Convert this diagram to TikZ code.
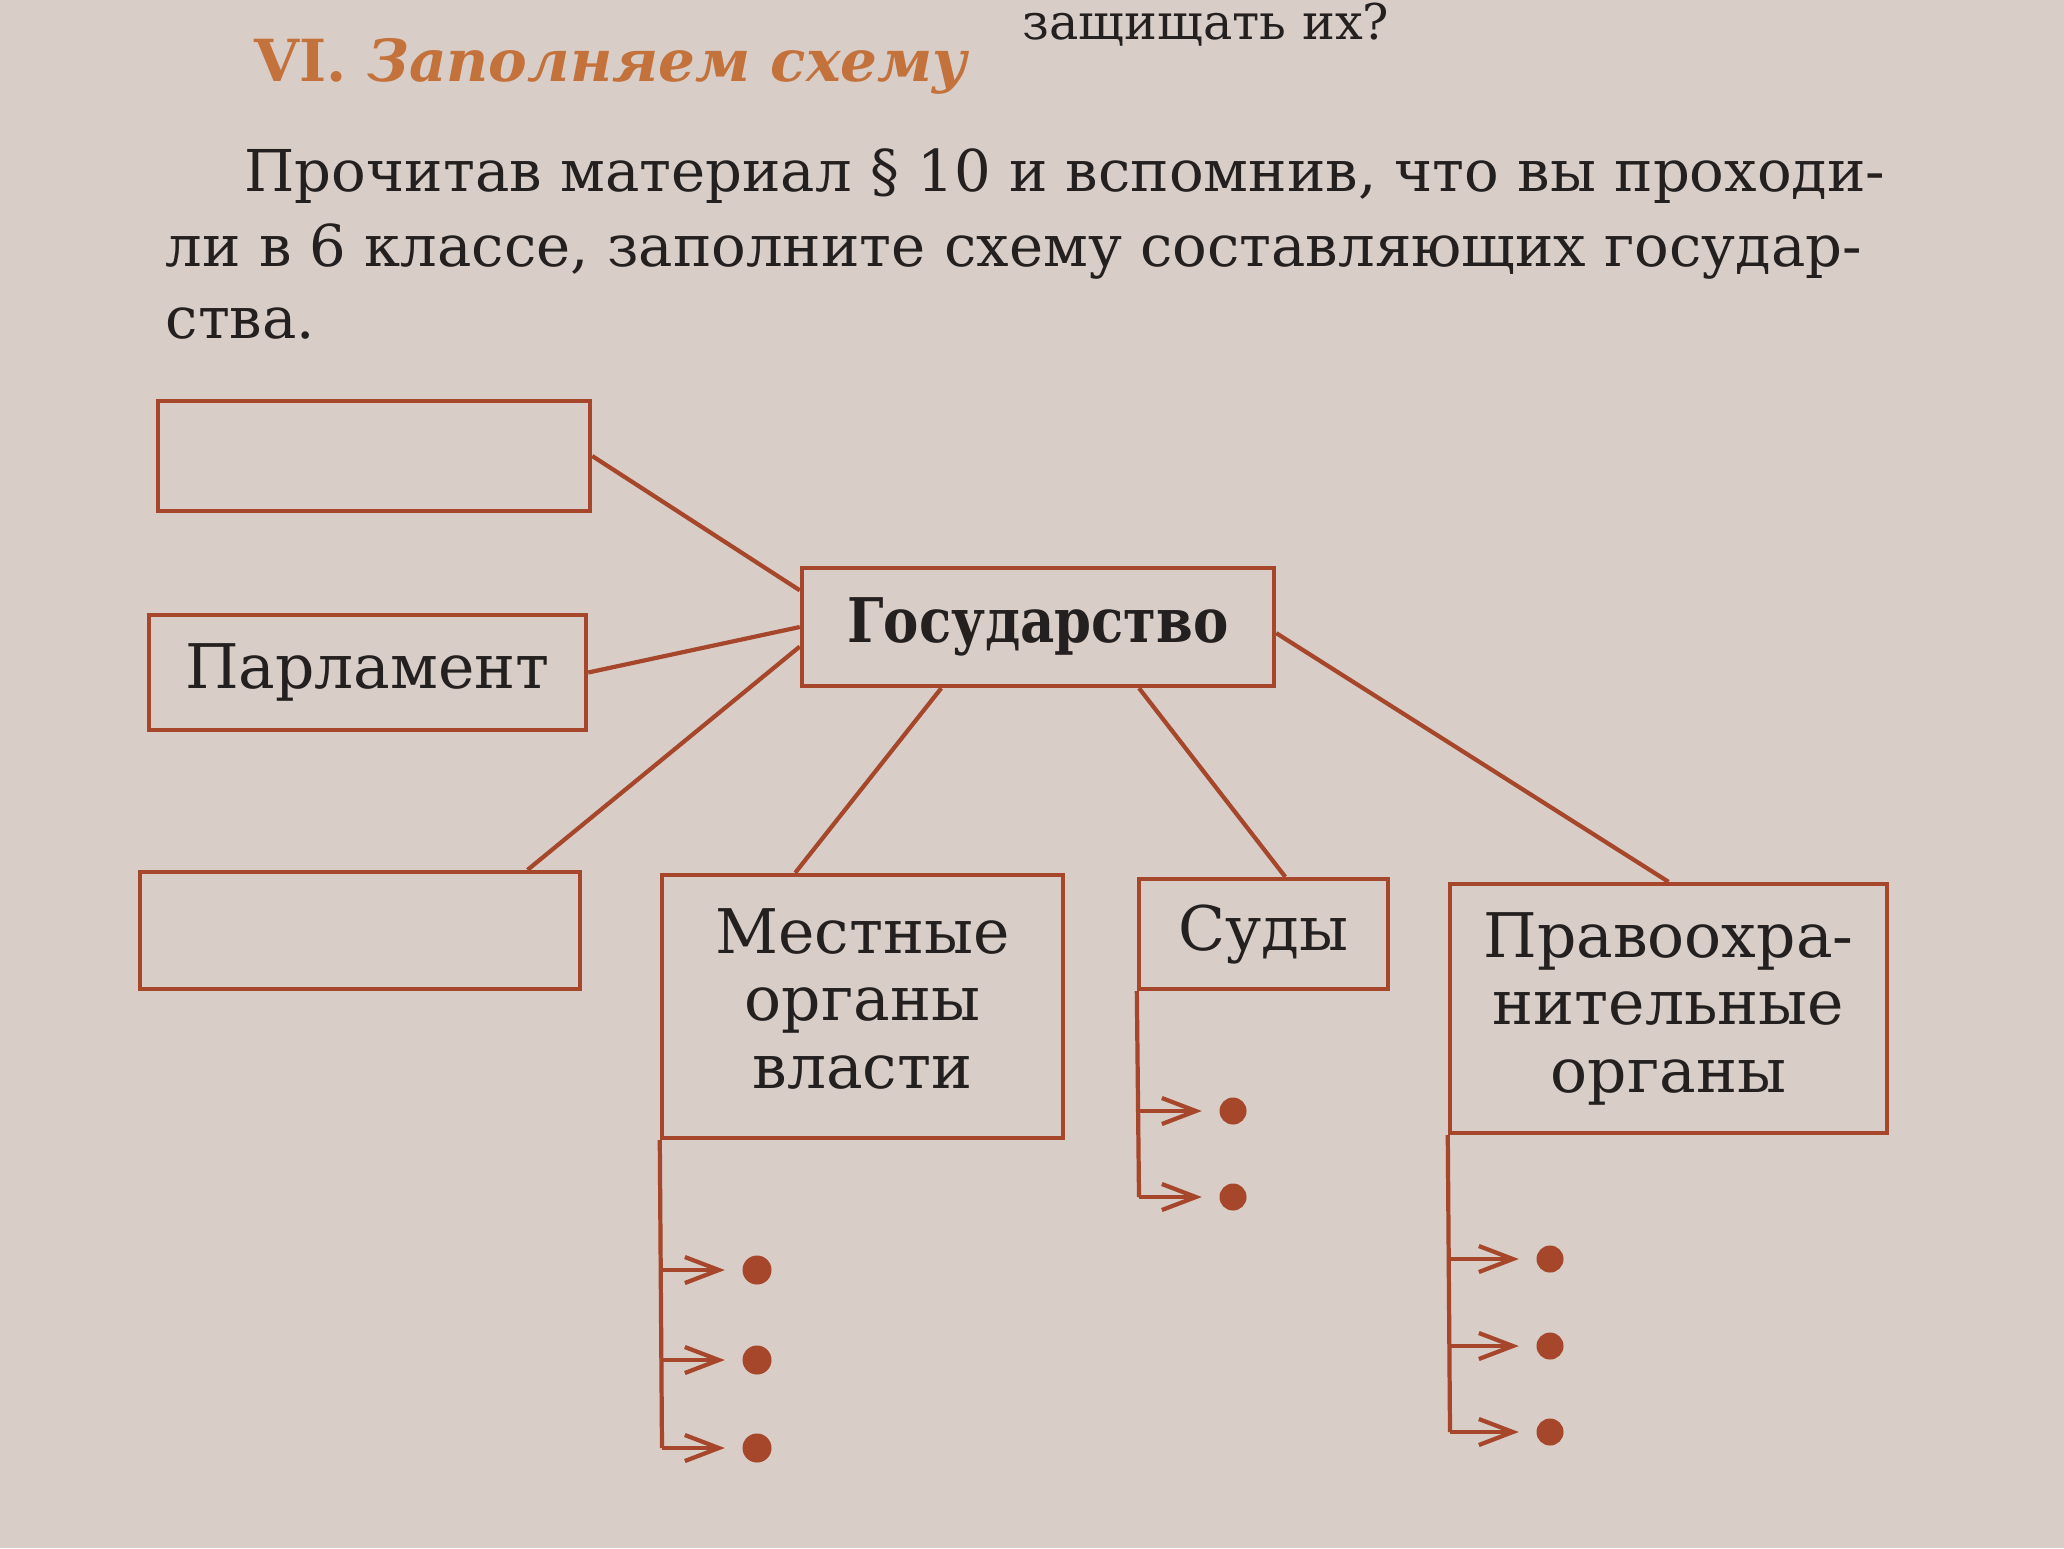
\documentclass[tikz,border=0pt]{standalone}
\usepackage{fontspec}
\setmainfont{DejaVu Serif}
\usetikzlibrary{arrows.meta,calc}
\definecolor{paper}{RGB}{216,206,199}
\definecolor{lin}{RGB}{166,70,42}
\definecolor{head}{RGB}{196,114,60}
\definecolor{ink}{RGB}{36,32,32}
\begin{document}
\begin{tikzpicture}[x=0.01cm,y=-0.01cm,
  box/.style={draw=lin,line width=1.2pt,rectangle,inner sep=0pt,text=ink,align=center,
    font=\fontsize{17.5}{19.2}\selectfont},
  conn/.style={draw=lin,line width=1.2pt},
  arr/.style={draw=lin,line width=1.2pt,-{Straight Barb[length=0.34cm,width=0.26cm,line width=1.2pt]},shorten >=0.17cm},
  dot/.style={circle,fill=lin,inner sep=0pt,minimum size=0.29cm},
  para/.style={text=ink,anchor=west,inner sep=0pt,font=\fontsize{16.4}{20}\selectfont}]
\fill[paper] (0,0) rectangle (2064,1548);
\useasboundingbox (0,0) rectangle (2064,1548);

% text
\node[para,anchor=north east,font=\fontsize{14}{16}\selectfont] (top) at (1390,2) {защищать их?};
\node[para,text=head,font=\fontsize{16.5}{20}\selectfont\bfseries] (hd) at (254,66) {VI. \textit{Заполняем схему}};
\node[para] (l1) at (244,176) {Прочитав материал § 10 и вспомнив, что вы проходи-};
\node[para] (l2) at (165,251) {ли в 6 классе, заполните схему составляющих государ-};
\node[para] (l3) at (165,324) {ства.};

% boxes
\node[box,minimum width=4.32cm,minimum height=1.10cm] (e1) at (374,456) {};
\node[box,minimum width=4.37cm,minimum height=1.15cm] (parl) at (367.5,672.5) {Парламент};
\node[box,minimum width=4.40cm,minimum height=1.17cm] (e2) at (360,930.5) {};
\node[box,minimum width=4.72cm,minimum height=1.18cm,font=\fontsize{17.5}{19.2}\selectfont\bfseries] (gos) at (1038,627) {\scalebox{0.86}[1]{Государство}};
\node[box,minimum width=4.01cm,minimum height=2.63cm] (mest) at (862.5,1006.5) {Местные\\органы\\власти\\[-14.6pt]\mbox{}};
\node[box,minimum width=2.49cm,minimum height=1.10cm] (sudy) at (1263.5,934) {Суды};
\node[box,minimum width=4.37cm,minimum height=2.49cm] (prav) at (1668.5,1008.5) {Правоохра-\\нительные\\органы};

% connectors
\draw[conn] ($(gos.north west)!0.2!(gos.south west)$) -- (e1.east);
\draw[conn] (gos.west) -- (parl.east);
\draw[conn] ($(gos.north west)!0.66!(gos.south west)$) -- ($(e2.north west)!0.877!(e2.north east)$);
\draw[conn] ($(gos.south west)!0.297!(gos.south east)$) -- ($(mest.north west)!0.334!(mest.north east)$);
\draw[conn] ($(gos.south west)!0.712!(gos.south east)$) -- ($(sudy.north west)!0.586!(sudy.north east)$);
\draw[conn] ($(gos.north east)!0.55!(gos.south east)$) -- (prav.north);

% bullets: Местные органы власти
\coordinate (m1) at (662,1270);
\coordinate (m2) at (662,1360);
\coordinate (m3) at (662,1448);
\node[dot] (md1) at (757,1270) {};
\node[dot] (md2) at (757,1360) {};
\node[dot] (md3) at (757,1448) {};
\draw[conn] (mest.south west) -- (m3);
\draw[arr] (m1) -- (md1);
\draw[arr] (m2) -- (md2);
\draw[arr] (m3) -- (md3);

% bullets: Суды
\coordinate (s1) at (1139,1111);
\coordinate (s2) at (1139,1197);
\node[dot,minimum size=0.27cm] (sd1) at (1233,1111) {};
\node[dot,minimum size=0.27cm] (sd2) at (1233,1197) {};
\draw[conn] (sudy.south west) -- (s2);
\draw[arr] (s1) -- (sd1);
\draw[arr] (s2) -- (sd2);

% bullets: Правоохранительные органы
\coordinate (p1) at (1450,1259);
\coordinate (p2) at (1450,1346);
\coordinate (p3) at (1450,1432);
\node[dot,minimum size=0.27cm] (pd1) at (1550,1259) {};
\node[dot,minimum size=0.27cm] (pd2) at (1550,1346) {};
\node[dot,minimum size=0.27cm] (pd3) at (1550,1432) {};
\draw[conn] (prav.south west) -- (p3);
\draw[arr] (p1) -- (pd1);
\draw[arr] (p2) -- (pd2);
\draw[arr] (p3) -- (pd3);
\end{tikzpicture}
\end{document}
